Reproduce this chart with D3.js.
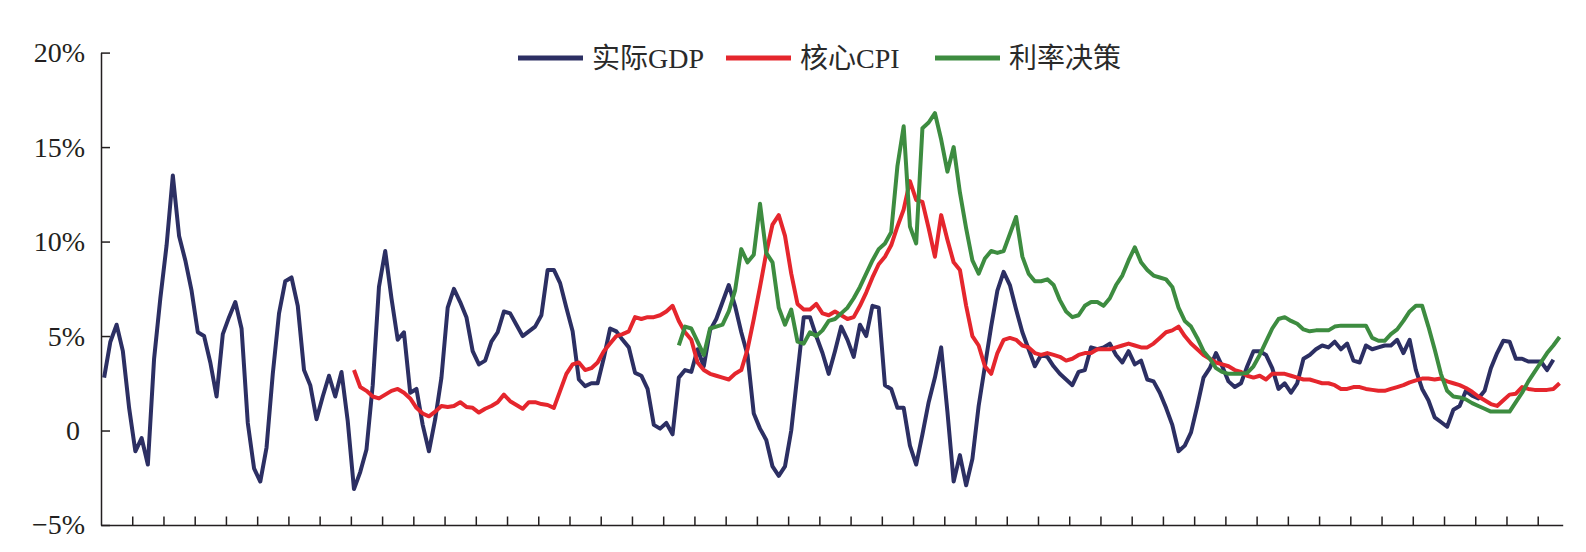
<!DOCTYPE html>
<html>
<head>
<meta charset="utf-8">
<script src="https://cdn.jsdelivr.net/npm/d3@7"></script>
<style>
  body { margin: 0; background: #fff; }
  svg { display: block; }
  .axis path, .axis line { stroke: #231f20; stroke-width: 1.5; }
  .axis text { font-family: "Liberation Serif", "Times New Roman", serif; font-size: 28px; fill: #231f20; }
  .legend text { font-family: "Liberation Serif", "Noto Sans CJK SC", serif; font-size: 28px; fill: #2a2a2a; }
</style>
</head>
<body>
<svg width="1586" height="552"></svg>
<script>
// quarterly series, index 0 = first quarter on the axis
var gdp = [
  2.8, 4.7, 5.6, 4.2, 1.2, -1.1, -0.4, -1.8, 3.8, 7.0,
  9.8, 13.5, 10.3, 9.0, 7.4, 5.2, 5.0, 3.6, 1.8, 5.1,
  6.0, 6.8, 5.4, 0.4, -2.0, -2.7, -0.9, 3.0, 6.2, 7.9,
  8.1, 6.6, 3.2, 2.4, 0.6, 1.8, 2.9, 1.8, 3.1, 0.5,
  -3.1, -2.2, -1.0, 2.4, 7.6, 9.5, 7.0, 4.8, 5.2, 2.0,
  2.2, 0.3, -1.1, 0.6, 2.8, 6.5, 7.5, 6.8, 6.0, 4.2,
  3.5, 3.7, 4.7, 5.2, 6.3, 6.2, 5.6, 5.0, 5.25, 5.5,
  6.1, 8.5, 8.5, 7.8, 6.5, 5.25, 2.7, 2.35, 2.5, 2.5,
  3.85, 5.4, 5.25, 4.8, 4.4, 3.05, 2.9, 2.2, 0.3, 0.1,
  0.4, -0.2, 2.8, 3.2, 3.1, 4.3, 3.4, 5.3, 5.9, 6.8,
  7.7, 6.6, 5.2, 4.0, 0.9, 0.1, -0.5, -1.9, -2.4, -1.9,
  0.0, 3.0, 6.0, 6.0, 5.0, 4.1, 3.0, 4.2, 5.5, 4.8,
  3.9, 5.6, 5.0, 6.6, 6.5, 2.4, 2.2, 1.2, 1.2, -0.8,
  -1.8, -0.2, 1.5, 2.8, 4.4, 1.0, -2.7, -1.3, -2.9, -1.5,
  1.3, 3.4, 5.5, 7.4, 8.4, 7.7, 6.4, 5.2, 4.3, 3.4,
  4.0, 3.9, 3.4, 3.0, 2.7, 2.4, 3.1, 3.2, 4.4, 4.3,
  4.4, 4.6, 4.0, 3.6, 4.2, 3.5, 3.7, 2.7, 2.6, 2.0,
  1.2, 0.3, -1.1, -0.8, -0.1, 1.3, 2.8, 3.3, 4.1, 3.4,
  2.6, 2.3, 2.5, 3.4, 4.2, 4.2, 4.0, 3.3, 2.2, 2.5,
  2.0, 2.5, 3.8, 4.0, 4.3, 4.5, 4.4, 4.7, 4.3, 4.6,
  3.7, 3.6, 4.5, 4.3, 4.4, 4.5, 4.5, 4.8, 4.1, 4.8,
  3.2, 2.2, 1.6, 0.7, 0.45, 0.2, 1.1, 1.3, 2.1, 1.85,
  1.7, 2.1, 3.3, 4.1, 4.75, 4.7, 3.8, 3.8, 3.65, 3.65,
  3.65, 3.2, 3.75
];

var coreCpi = [
  3.2, 2.3, 2.1, 1.8, 1.7, 1.9, 2.1, 2.2, 2.0, 1.7,
  1.2, 0.9, 0.75, 1.0, 1.3, 1.25, 1.3, 1.5, 1.25, 1.2,
  0.95, 1.15, 1.3, 1.5, 1.9, 1.55, 1.35, 1.15, 1.5, 1.5,
  1.4, 1.35, 1.2, 2.1, 3.0, 3.5, 3.6, 3.2, 3.3, 3.6,
  4.2, 4.6, 5.0, 5.1, 5.25, 6.0, 5.9, 6.0, 6.0, 6.1,
  6.3, 6.6, 5.8, 5.2, 4.8, 3.6, 3.2, 3.0, 2.9, 2.8,
  2.7, 3.0, 3.2, 4.3, 5.9, 7.6, 9.4, 10.9, 11.4, 10.3,
  8.3, 6.7, 6.4, 6.4, 6.7, 6.2, 6.1, 6.3, 6.1, 5.9,
  6.0, 6.6, 7.3, 8.1, 8.8, 9.2, 9.8, 10.8, 11.7, 13.2,
  12.2, 12.1, 10.7, 9.2, 11.4, 10.1, 8.9, 8.5, 6.6, 5.0,
  4.5, 3.4, 3.0, 4.1, 4.8, 4.9, 4.8, 4.5, 4.4, 4.1,
  4.0, 4.1, 4.0, 3.9, 3.7, 3.8, 4.0, 4.1, 4.1, 4.3,
  4.3, 4.3, 4.4, 4.5, 4.6, 4.5, 4.4, 4.4, 4.6, 4.9,
  5.2, 5.3, 5.5, 5.0, 4.6, 4.3, 4.0, 3.8, 3.6, 3.5,
  3.4, 3.2, 3.1, 2.9, 2.8, 2.9, 2.7, 3.0, 3.0, 3.0,
  2.9, 2.8, 2.7, 2.7, 2.6, 2.5, 2.5, 2.4, 2.2, 2.2,
  2.3, 2.3, 2.2, 2.15, 2.1, 2.1, 2.2, 2.3, 2.4, 2.55,
  2.65, 2.75, 2.75, 2.7, 2.75, 2.6, 2.5, 2.4, 2.25, 2.05,
  1.8, 1.6, 1.4, 1.3, 1.6, 1.9, 1.95, 2.3, 2.2, 2.15,
  2.15, 2.15, 2.2, 2.5
];

var rate = [
  4.5, 5.5, 5.4, 4.7, 4.0, 5.4, 5.5, 5.6,
  6.3, 7.4, 9.6, 8.9, 9.3, 12.0, 9.4, 8.9, 6.5, 5.6,
  6.4, 4.7, 4.6, 5.2, 5.0, 5.3, 5.8, 5.9, 6.2, 6.5,
  7.0, 7.6, 8.3, 9.0, 9.6, 9.9, 10.5, 14.0, 16.1, 10.8,
  9.9, 16.0, 16.3, 16.8, 15.4, 13.7, 15.0, 12.6, 10.7, 9.0,
  8.3, 9.1, 9.5, 9.4, 9.5, 10.4, 11.3, 9.2, 8.3, 7.9,
  7.9, 8.0, 7.7, 6.9, 6.3, 6.0, 6.1, 6.6, 6.8, 6.8,
  6.6, 7.0, 7.7, 8.2, 9.0, 9.7, 8.9, 8.5, 8.2, 8.1,
  8.0, 7.6, 6.5, 5.8, 5.5, 4.9, 4.2, 3.8, 3.3, 3.1,
  3.0, 3.0, 3.0, 3.05, 3.4, 4.0, 4.7, 5.4, 5.9, 6.0,
  5.8, 5.65, 5.35, 5.25, 5.3, 5.3, 5.3, 5.5, 5.55, 5.55,
  5.55, 5.55, 5.55, 4.9, 4.75, 4.75, 5.1, 5.35, 5.8, 6.3,
  6.6, 6.6, 5.5, 4.3, 3.0, 2.1, 1.8, 1.75, 1.65, 1.45,
  1.3, 1.15, 1.0, 1.0, 1.0, 1.0, 1.5, 2.0, 2.6, 3.1,
  3.6, 4.1, 4.5, 4.95
];

// first quarter of each series on the shared axis
var gdpStart = 0, cpiStart = 40, rateStart = 92;
var quarterCount = 234;

var seriesNames = ["实际GDP", "核心CPI", "利率决策"];
var seriesColors = ["#2c2f63", "#e5262d", "#3d8c40"];
var yTicks = [-5, 0, 5, 10, 15, 20];

var series = [
  { name: seriesNames[0], values: gdp, start: gdpStart, color: seriesColors[0] },
  { name: seriesNames[1], values: coreCpi, start: cpiStart, color: seriesColors[1] },
  { name: seriesNames[2], values: rate, start: rateStart, color: seriesColors[2] }
];

var svg = d3.select("svg");

var x = d3.scaleLinear().domain([-0.5, quarterCount - 0.5]).range([101, 1562.7]);
var y = d3.scaleLinear().domain([-5, 20]).range([525, 52.6]);

// a tick every 5 quarters, no labels
var xTicks = d3.range(5, quarterCount, 5).map(function(k) { return k - 0.5; });

svg.append("g").attr("class", "x axis")
    .attr("transform", "translate(0," + y(-5) + ")")
    .call(d3.axisBottom(x).tickValues(xTicks).tickSizeInner(-8.5).tickSizeOuter(0).tickFormat(""));

var yAxis = svg.append("g").attr("class", "y axis")
    .attr("transform", "translate(" + x(-0.5) + ",0)")
    .call(d3.axisLeft(y).tickValues(yTicks).tickSizeInner(-9).tickSizeOuter(0).tickPadding(16)
        .tickFormat(function(d) {
            if (d === 0) return "0";
            return (d < 0 ? "\u2212" : "") + Math.abs(d) + "%";
        }));
yAxis.selectAll(".tick text").filter(function(d) { return d === 0; }).attr("dx", -5);

// lines
svg.selectAll(".series")
    .data(series)
    .enter()
    .append("path")
    .attr("class", "series")
    .attr("fill", "none")
    .attr("stroke", function(d) { return d.color; })
    .attr("stroke-width", 4)
    .attr("stroke-linejoin", "round")
    .attr("d", function(s) {
        return d3.line()
            .x(function(v, i) { return x(s.start + i); })
            .y(function(v) { return y(v); })(s.values);
    });

// legend, one swatch + label per series, centred over the plot
var legendX = [518, 726, 935];
var legend = svg.append("g").attr("class", "legend");
series.forEach(function(s, i) {
    legend.append("line")
        .attr("x1", legendX[i]).attr("x2", legendX[i] + 65)
        .attr("y1", 58).attr("y2", 58)
        .attr("stroke", s.color).attr("stroke-width", 5);
    legend.append("text")
        .attr("x", legendX[i] + 74).attr("y", 58).attr("dy", "0.36em")
        .text(s.name);
});
</script>
</body>
</html>
